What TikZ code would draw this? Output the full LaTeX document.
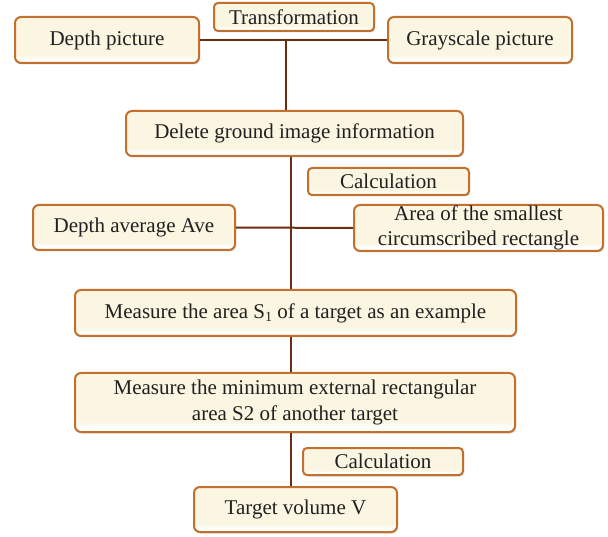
\documentclass[tikz,border=0pt]{standalone}
\usepackage{fontspec}
\setmainfont{Liberation Serif}
\usetikzlibrary{shadows}

\definecolor{boxrim}{HTML}{C2702E}
\definecolor{boxfill}{HTML}{FAF6E2}
\definecolor{wire}{HTML}{6B2C10}
\definecolor{ink}{HTML}{231F20}

% cream body with a pale strip along the bottom edge
\pgfdeclareverticalshading{creamshade}{100bp}{%
  color(0bp)=(white); color(29bp)=(white); color(34bp)=(boxfill); color(100bp)=(boxfill)}

\tikzset{
  card/.style={draw=boxrim, line width=2pt, rounded corners=6pt,
    shading=creamshade,
    drop shadow={opacity=0.3, shadow xshift=1pt, shadow yshift=-1.5pt},
    inner sep=0pt, align=center, text=ink,
    font=\fontsize{21}{25.5}\selectfont},
  tag/.style={card, rounded corners=4pt},
  link/.style={draw=wire, line width=2pt}
}

\newcommand{\lowone}{\raisebox{-0.35ex}{\fontsize{14}{14}\selectfont 1}}

\begin{document}
\begin{tikzpicture}[x=1pt, y=-1pt]
  \useasboundingbox (0,0) rectangle (608,537);

  % boxes
  \node[tag,  minimum width=160pt, minimum height=28pt] (trans) at (294,17)    {Transformation};
  \node[card, minimum width=184pt, minimum height=46pt] (depth) at (107,40)    {Depth picture};
  \node[card, minimum width=184pt, minimum height=46pt] (gray)  at (480,40)    {Grayscale picture};
  \node[card, minimum width=337pt, minimum height=45pt] (del)   at (294.5,133.5) {Delete ground image information};
  \node[tag,  minimum width=161pt, minimum height=27pt] (calcA) at (388.5,181.5) {Calculation};
  \node[card, minimum width=202pt, minimum height=45pt] (ave)   at (134,227.5) {Depth average Ave};
  \node[card, minimum width=249pt, minimum height=46pt] (area)  at (478.5,228) {Area of the smallest\\circumscribed rectangle};
  \node[card, minimum width=441pt, minimum height=46pt] (sone)  at (295.5,313) {Measure the area S\lowone\ of a target as an example};
  \node[card, minimum width=440pt, minimum height=59pt] (stwo)  at (295,402.5) {Measure the minimum external rectangular\\area S2 of another target};
  \node[tag,  minimum width=160pt, minimum height=27pt] (calcB) at (383,461.5) {Calculation};
  \node[card, minimum width=203pt, minimum height=45pt] (vol)   at (295.5,509.5) {Target volume V};

  % connectors
  \coordinate (j1) at (286,40);
  \coordinate (spine) at (291,0);
  \draw[link] (depth.east) -- (gray.west);
  \draw[link] (j1) -- (j1 |- del.north);
  \draw[link] (del.south -| spine) -- (sone.north -| spine);
  \draw[link] (ave.east) -- (area.west);
  \draw[link] (sone.south -| spine) -- (stwo.north -| spine);
  \draw[link] (stwo.south -| spine) -- (vol.north -| spine);
\end{tikzpicture}
\end{document}
